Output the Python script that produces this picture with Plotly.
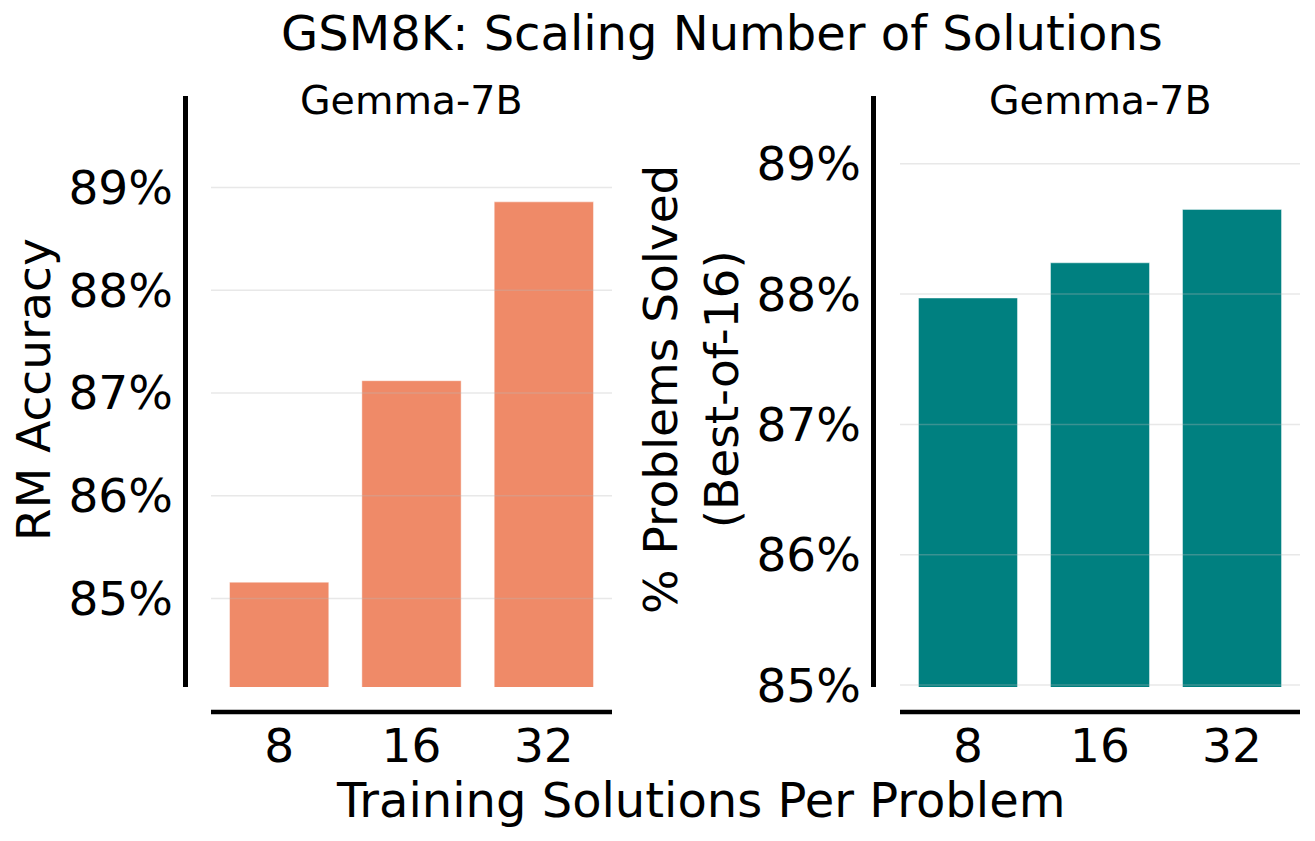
"""GSM8K: scaling number of training solutions, Gemma-7B, two bar panels."""
import plotly.graph_objects as go

W, H = 1315, 841

solutions = ["8", "16", "32"]
rm_accuracy = [85.16, 87.12, 88.86]          # left panel, %
best_of_16 = [87.97, 88.24, 88.65]           # right panel, %
y_ticks = [85, 86, 87, 88, 89]
y_tick_text = [f"{t}%" for t in y_ticks]

SALMON = "#EF8A68"
TEAL = "#008080"
FONT = "DejaVu Sans"


def px_x(p):
    return p / W


def px_y(p):
    return 1 - p / H


fig = go.Figure()

fig.add_trace(go.Bar(
    x=solutions, y=rm_accuracy, width=0.75,
    marker=dict(color=SALMON, line=dict(color="rgba(255,255,255,0.45)", width=1)),
    xaxis="x", yaxis="y", showlegend=False,
))
fig.add_trace(go.Bar(
    x=solutions, y=best_of_16, width=0.75,
    marker=dict(color=TEAL, line=dict(color="rgba(255,255,255,0.45)", width=1)),
    xaxis="x2", yaxis="y2", showlegend=False,
))

ydom = [px_y(687), px_y(96)]
axis_common = dict(
    showgrid=False, zeroline=False, showline=True, linecolor="black",
    linewidth=4.5, ticks="", tickfont=dict(family=FONT, size=47, color="black"),
    anchor="free", fixedrange=True, automargin=False,
)
# x spines are drawn as shapes further down; the axes sit a bit higher so the
# tick labels land close to the spine like in matplotlib
x_common = dict(axis_common, showline=False, position=px_y(708),
                range=[-0.515, 2.515], type="category", ticklabelstandoff=6)

fig.update_layout(
    width=W, height=H,
    margin=dict(l=0, r=0, t=0, b=0, autoexpand=False),
    paper_bgcolor="white", plot_bgcolor="white",
    font=dict(family=FONT, color="black"),
    title=dict(
        text="GSM8K: Scaling Number of Solutions",
        x=px_x(722), y=px_y(33), xanchor="center", yanchor="middle",
        font=dict(family=FONT, size=48, color="black"),
    ),
    xaxis=dict(x_common, domain=[px_x(211), px_x(612)]),
    yaxis=dict(axis_common, domain=ydom, position=px_x(185),
               range=[84.14, 89.89], tickvals=y_ticks, ticktext=y_tick_text,
               ticklabelstandoff=1),
    xaxis2=dict(x_common, domain=[px_x(900), px_x(1300)]),
    yaxis2=dict(axis_common, domain=ydom, position=px_x(873),
                range=[84.985, 89.52], tickvals=y_ticks, ticktext=y_tick_text,
                ticklabelstandoff=1),
)

# grid drawn over the bars, like the source figure
grid = "rgba(185,185,185,0.32)"
for xa, ya in [("x", "y"), ("x2", "y2")]:
    for t in y_ticks:
        fig.add_shape(type="line", xref=f"{xa} domain", yref=ya, x0=0, x1=1,
                      y0=t, y1=t, line=dict(color=grid, width=1.5), layer="above")
    for s in solutions:
        fig.add_shape(type="line", xref=xa, yref=f"{ya} domain", x0=s, x1=s,
                      y0=0, y1=1, line=dict(color=grid, width=1.5), layer="above")
    # offset bottom spine
    fig.add_shape(type="line", xref=f"{xa} domain", yref="paper", x0=0, x1=1,
                  y0=px_y(712), y1=px_y(712), line=dict(color="black", width=4.5))

# panel titles
for xa in ["x", "x2"]:
    fig.add_annotation(text="Gemma-7B", xref=f"{xa} domain", yref="paper",
                       x=0.5, y=px_y(100), showarrow=False, yanchor="middle",
                       font=dict(family=FONT, size=39.5, color="black"))

# axis titles
fig.add_annotation(text="RM Accuracy", textangle=-90, xref="paper", yref="paper",
                   x=px_x(33), y=px_y(390), showarrow=False,
                   xanchor="center", yanchor="middle",
                   font=dict(family=FONT, size=47, color="black"))
fig.add_annotation(text="% Problems Solved<br>(Best-of-16)", textangle=-90,
                   xref="paper", yref="paper", x=px_x(691), y=px_y(390),
                   showarrow=False, xanchor="center", yanchor="middle",
                   font=dict(family=FONT, size=47, color="black"))
fig.add_annotation(text="Training Solutions Per Problem", xref="paper", yref="paper",
                   x=px_x(700), y=px_y(800), showarrow=False,
                   xanchor="center", yanchor="middle",
                   font=dict(family=FONT, size=48, color="black"))

# page margin would otherwise push the fixed-size figure off the window
fig.write_html("out.html", config={"displayModeBar": False},
               post_script="document.body.style.margin='0';")
